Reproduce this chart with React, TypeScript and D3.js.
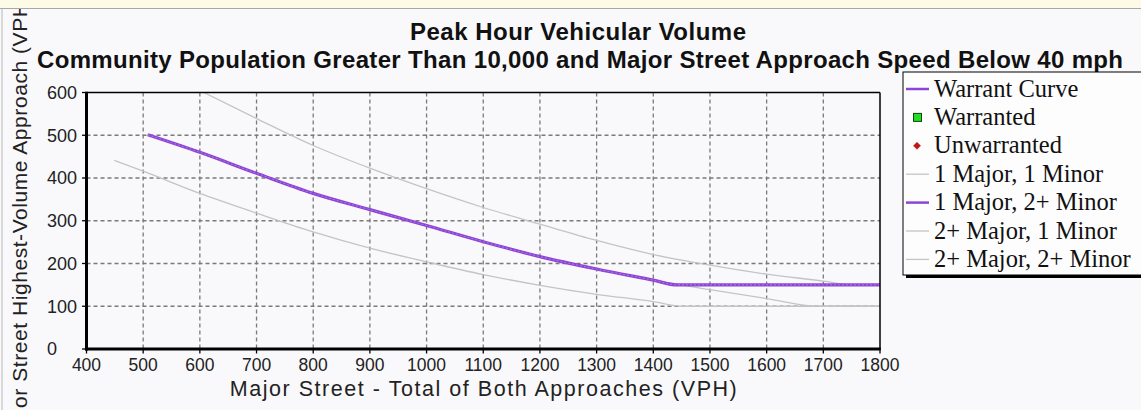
import React from "react";
import * as d3 from "d3";

const TITLE_1 = "Peak Hour Vehicular Volume";
const TITLE_2 = "Community Population Greater Than 10,000 and Major Street Approach Speed Below 40 mph";
const X_TITLE = "Major Street - Total of Both Approaches (VPH)";
const Y_TITLE = "Minor Street Highest-Volume Approach (VPH)";

const X_TICKS = [400, 500, 600, 700, 800, 900, 1000, 1100, 1200, 1300, 1400, 1500, 1600, 1700, 1800];
const Y_TICKS = [0, 100, 200, 300, 400, 500, 600];

// 1 Major, 2+ Minor (also the selected warrant curve)
const m1n2Major = [508, 600, 700, 800, 900, 1000, 1100, 1200, 1300, 1400, 1442, 1800];
const m1n2Minor = [501, 460, 411, 364, 326, 289, 251, 216, 187, 161, 150, 150];

// 2+ Major, 1 Minor
const m2n1Major = [508, 600, 700, 800, 900, 1000, 1100, 1200, 1300, 1400, 1500, 1600, 1690, 1800];
const m2n1Minor = [501, 460, 411, 364, 326, 289, 251, 216, 187, 161, 139, 118, 100, 100];

// 1 Major, 1 Minor
const m1n1Major = [449, 500, 600, 700, 800, 900, 1000, 1100, 1200, 1300, 1400, 1452, 1800];
const m1n1Minor = [441, 416, 364, 318, 274, 236, 204, 174, 149, 128, 111, 100, 100];

// 2+ Major, 2+ Minor
const m2n2Major = [607, 700, 800, 900, 1000, 1100, 1200, 1300, 1400, 1500, 1600, 1700, 1750, 1800];
const m2n2Minor = [600, 539, 476, 423, 375, 331, 292, 254, 221, 196, 175, 159, 150, 150];

const LEGEND = [
  { name: "Warrant Curve", kind: "purple" },
  { name: "Warranted", kind: "square" },
  { name: "Unwarranted", kind: "diamond" },
  { name: "1 Major, 1 Minor", kind: "gray" },
  { name: "1 Major, 2+ Minor", kind: "purple" },
  { name: "2+ Major, 1 Minor", kind: "gray" },
  { name: "2+ Major, 2+ Minor", kind: "gray" },
];

const W = 1141;
const H = 410;
const PL = 86.5, PR = 880, PT = 92.5, PB = 349;
const PURPLE = "#8e44d4";
const GRAY = "#c4c4c4";
const BG = "#f9f9fc";

export default function App() {
  const x = d3.scaleLinear().domain([400, 1800]).range([PL, PR]);
  const y = d3.scaleLinear().domain([0, 600]).range([PB, PT]);
  const line = d3
    .line<[number, number]>()
    .x((d) => x(d[0]))
    .y((d) => y(d[1]))
    .curve(d3.curveMonotoneX);
  const zip = (a: number[], b: number[]) => a.map((v, i) => [v, b[i]] as [number, number]);

  const grays = [
    zip(m1n1Major, m1n1Minor),
    zip(m2n1Major, m2n1Minor),
    zip(m2n2Major, m2n2Minor),
  ];
  const warrant = zip(m1n2Major, m1n2Minor);

  const legX = 903, legY = 72, legW = 260, legH = 203, rowH = 28.4;

  return (
    <svg
      width={W}
      height={H}
      style={{ position: "absolute", left: 0, top: 0, display: "block" }}
      fontFamily="Arial, 'Liberation Sans', sans-serif"
    >
      <defs>
        <clipPath id="plotclip">
          <rect x={PL} y={PT} width={PR - PL} height={PB - PT} />
        </clipPath>
      </defs>
      <rect x={0} y={0} width={W} height={H} fill={BG} />

      {/* y axis title (clipped at top by band, as in the reference) */}
      <text
        transform={`translate(27,219) rotate(-90)`}
        textAnchor="middle"
        fontSize={21}
        fill="#222"
        textLength={449}
      >
        {Y_TITLE}
      </text>

      {/* titles */}
      <text x={578} y={40} textAnchor="middle" fontWeight="bold" fontSize={24} fill="#111" textLength={336}>
        {TITLE_1}
      </text>
      <text x={580} y={68} textAnchor="middle" fontWeight="bold" fontSize={24} fill="#111" textLength={1086}>
        {TITLE_2}
      </text>

      {/* grid */}
      {X_TICKS.filter((t) => t > 400 && t < 1800).map((t) => (
        <line key={"gx" + t} x1={x(t)} x2={x(t)} y1={PT} y2={PB} stroke="#7a7a7a" strokeWidth={1.3} strokeDasharray="4,3" />
      ))}
      {Y_TICKS.filter((t) => t > 0 && t < 600).map((t) => (
        <line key={"gy" + t} x1={PL} x2={PR} y1={y(t)} y2={y(t)} stroke="#7a7a7a" strokeWidth={1.3} strokeDasharray="4,3" />
      ))}

      {/* curves */}
      <g clipPath="url(#plotclip)" fill="none">
        {grays.map((g, i) => (
          <path key={"g" + i} d={line(g) || ""} stroke={GRAY} strokeWidth={1.3} />
        ))}
        <path d={line(warrant) || ""} stroke={PURPLE} strokeWidth={3.2} />
        <path d={line(warrant) || ""} stroke="#a97ae6" strokeWidth={1} strokeDasharray="2,2" />
      </g>

      {/* frame */}
      <line x1={PL} x2={PR} y1={PT} y2={PT} stroke="#000" strokeWidth={1.5} />
      <line x1={PR} x2={PR} y1={PT} y2={PB} stroke="#000" strokeWidth={1.5} />
      <line x1={PL} x2={PL} y1={PT - 0.75} y2={PB + 1.5} stroke="#000" strokeWidth={3} />
      <line x1={PL - 1.5} x2={PR + 0.75} y1={PB} y2={PB} stroke="#000" strokeWidth={3} />

      {/* ticks & labels */}
      {X_TICKS.map((t) => (
        <g key={"xt" + t}>
          <line x1={x(t)} x2={x(t)} y1={PB} y2={PB + 4.5} stroke="#000" strokeWidth={1.3} />
          <text x={x(t)} y={371} textAnchor="middle" fontSize={17.5} fill="#222">
            {t}
          </text>
        </g>
      ))}
      {Y_TICKS.map((t) => (
        <g key={"yt" + t}>
          <line x1={PL - 4.5} x2={PL} y1={y(t)} y2={y(t)} stroke="#000" strokeWidth={1.3} />
          <text x={47} y={y(t)} dy="0.35em" textAnchor="start" fontSize={18} fill="#222">
            {t}
          </text>
        </g>
      ))}

      <text x={(PL + PR) / 2} y={396} textAnchor="middle" fontSize={21.5} fill="#222" textLength={507}>
        {X_TITLE}
      </text>

      {/* legend */}
      <rect x={legX + 3} y={legY + 3} width={legW} height={legH} fill="#000" />
      <rect x={legX} y={legY} width={legW} height={legH} fill="#fdfdfe" stroke="#000" strokeWidth={1} />
      {LEGEND.map((d, i) => {
        const cy = legY + 17 + i * rowH;
        let sym = null;
        if (d.kind === "purple") {
          sym = <line x1={906} x2={929} y1={cy} y2={cy} stroke={PURPLE} strokeWidth={2.5} />;
        } else if (d.kind === "gray") {
          sym = <line x1={906} x2={929} y1={cy} y2={cy} stroke={GRAY} strokeWidth={1.3} />;
        } else if (d.kind === "square") {
          sym = <rect x={913.5} y={cy - 4} width={8} height={8} fill="#22dd22" stroke="#114411" strokeWidth={1} />;
        } else {
          sym = (
            <path
              d={`M917,${cy - 3.5} L920.5,${cy} L917,${cy + 3.5} L913.5,${cy} Z`}
              fill="#cc1111"
              stroke="#881111"
              strokeWidth={0.5}
            />
          );
        }
        return (
          <g key={d.name}>
            {sym}
            <text
              x={934}
              y={cy + 7.5}
              fontFamily="'Liberation Serif', 'Times New Roman', serif"
              fontSize={24.5}
              fill="#111"
            >
              {d.name}
            </text>
          </g>
        );
      })}

      {/* window chrome: top band and left edge */}
      <rect x={0} y={0} width={W} height={8} fill="#fdfbe6" />
      <line x1={0} x2={W} y1={8.5} y2={8.5} stroke="#a8a8a8" strokeWidth={1} />
      <line x1={2} x2={2} y1={9} y2={H} stroke="#b8b8b8" strokeWidth={1} />
    </svg>
  );
}
